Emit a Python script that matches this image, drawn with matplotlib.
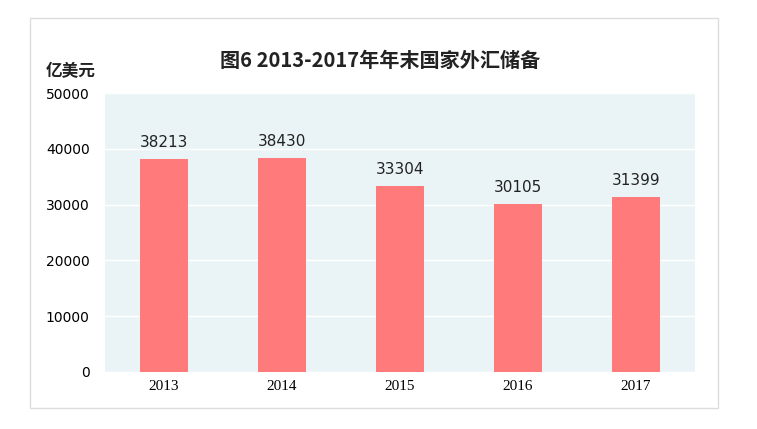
import matplotlib.pyplot as plt
from matplotlib.patches import Rectangle

plt.rcParams['font.family'] = ['Noto Sans CJK SC', 'DejaVu Sans']

# data
years = ['2013', '2014', '2015', '2016', '2017']
reserves = [38213, 38430, 33304, 30105, 31399]
y_ticks = [0, 10000, 20000, 30000, 40000, 50000]

fig = plt.figure(figsize=(7.57, 4.29), dpi=100)

# light card border around the chart
card = Rectangle((0.0396, 0.049), 0.909, 0.909, transform=fig.transFigure,
                 facecolor='white', edgecolor='#dddddd', linewidth=1, zorder=-1)
fig.patches.append(card)

ax = fig.add_axes([0.1387, 0.1329, 0.7794, 0.6503])
ax.set_zorder(2)
ax.set_facecolor('#eaf4f7')

x = range(len(years))
ax.bar(x, reserves, width=0.41, color='#ff7b7b', zorder=3)

for i, v in zip(x, reserves):
    ax.text(i, v + 1600, str(v), ha='center', va='bottom', fontsize=11,
            family='DejaVu Sans', color='#222222')

ax.set_xlim(-0.5, len(years) - 0.5)
ax.set_ylim(0, 50000)
ax.set_yticks(y_ticks)
ax.set_yticklabels([str(t) for t in y_ticks], fontsize=10, family='DejaVu Sans')
ax.set_xticks(list(x))
ax.set_xticklabels(years, fontsize=11, family='Liberation Serif')
ax.tick_params(length=0, pad=6)
ax.tick_params(axis='y', pad=11)
ax.grid(axis='y', color='white', linewidth=1, zorder=1)
ax.set_axisbelow(True)
for s in ax.spines.values():
    s.set_visible(False)

fig.text(0.502, 0.86, '图6 2013-2017年年末国家外汇储备', ha='center', va='center',
         fontsize=14.5, fontweight='bold', color='#222222')
fig.text(0.093, 0.834, '亿美元', ha='center', va='center', fontsize=12,
         fontweight='bold', color='#222222')

fig.savefig('out.png', dpi=100)
